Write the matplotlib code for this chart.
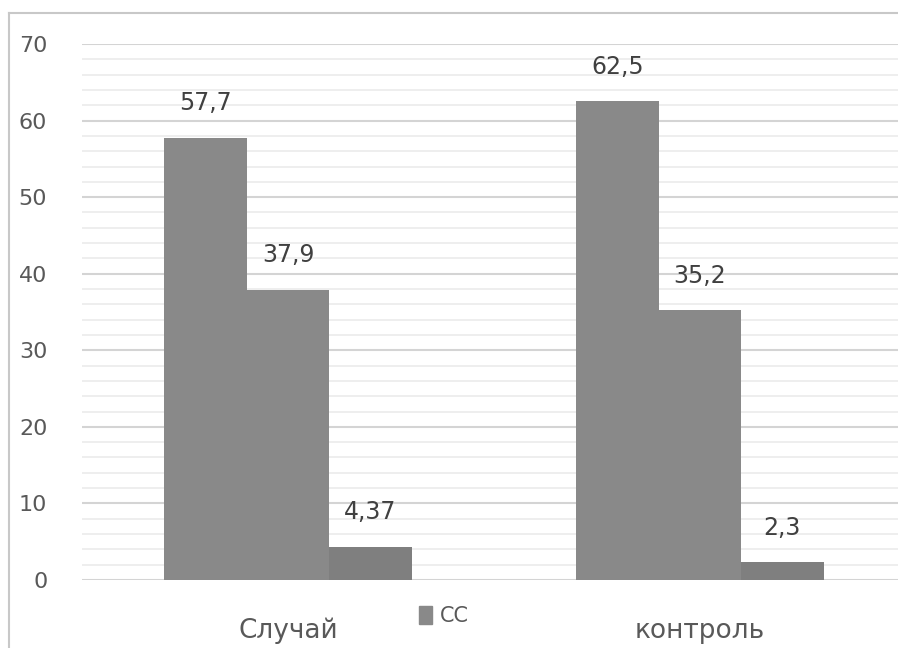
import matplotlib
matplotlib.use("Agg")
import matplotlib.pyplot as plt
from matplotlib.patches import Patch
from matplotlib.lines import Line2D
from matplotlib.ticker import MultipleLocator
import numpy as np

# data
categories = ["Случай", "контроль"]
series_1 = [57.7, 62.5]
series_2 = [37.9, 35.2]
series_3 = [4.37, 2.3]
labels_1 = ["57,7", "62,5"]
labels_2 = ["37,9", "35,2"]
labels_3 = ["4,37", "2,3"]
legend_label = "CC"

plt.rcParams['font.family'] = ['DejaVu Sans']
text_color = "#595959"

fig = plt.figure(figsize=(8.98, 6.48), dpi=100)
ax = fig.add_axes([82/898, 1-580/648, 824/898, 536/648])

x = np.arange(len(categories))
w = 0.2
colors = ["#898989", "#898989", "#7f7f7f"]
all_series = [series_1, series_2, series_3]
all_labels = [labels_1, labels_2, labels_3]
for i in range(3):
    bars = ax.bar(x + (i - 1)*w, all_series[i], width=w, color=colors[i], zorder=3)
    for b, lab in zip(bars, all_labels[i]):
        ax.annotate(lab, (b.get_x() + b.get_width()/2, b.get_height()),
                    xytext=(0, 25), textcoords="offset points",
                    ha="center", va="center", fontsize=17, color="#404040")

ax.set_xlim(-0.5, 1.5)
ax.set_ylim(0, 70)
ax.yaxis.set_major_locator(MultipleLocator(10))
ax.yaxis.set_minor_locator(MultipleLocator(2))
ax.grid(which="major", axis="y", color="#d4d4d4", linewidth=1.5, zorder=0)
ax.grid(which="minor", axis="y", color="#ebebeb", linewidth=1.2, zorder=0)
ax.set_xticks(x)
ax.set_xticklabels(categories)
ax.tick_params(axis="x", length=0, pad=27, labelsize=19, labelcolor=text_color)
ax.tick_params(axis="y", which="both", length=0, pad=25, labelsize=16, labelcolor=text_color)
for s in ax.spines.values():
    s.set_visible(False)

# chart border (left and top visible)
fig.add_artist(Line2D([9/898, 9/898], [0, 1-13/648], color="#c8c8c8", linewidth=1.5))
fig.add_artist(Line2D([9/898, 1], [1-13/648, 1-13/648], color="#c8c8c8", linewidth=1.5))

fig.legend(handles=[Patch(color="#898989")], labels=[legend_label],
           loc="center", bbox_to_anchor=(444/898, 1-616/648), frameon=False,
           handlelength=0.6, handleheight=1.0, handletextpad=0.4,
           fontsize=15, labelcolor=text_color)

fig.savefig("out.png", dpi=100)
